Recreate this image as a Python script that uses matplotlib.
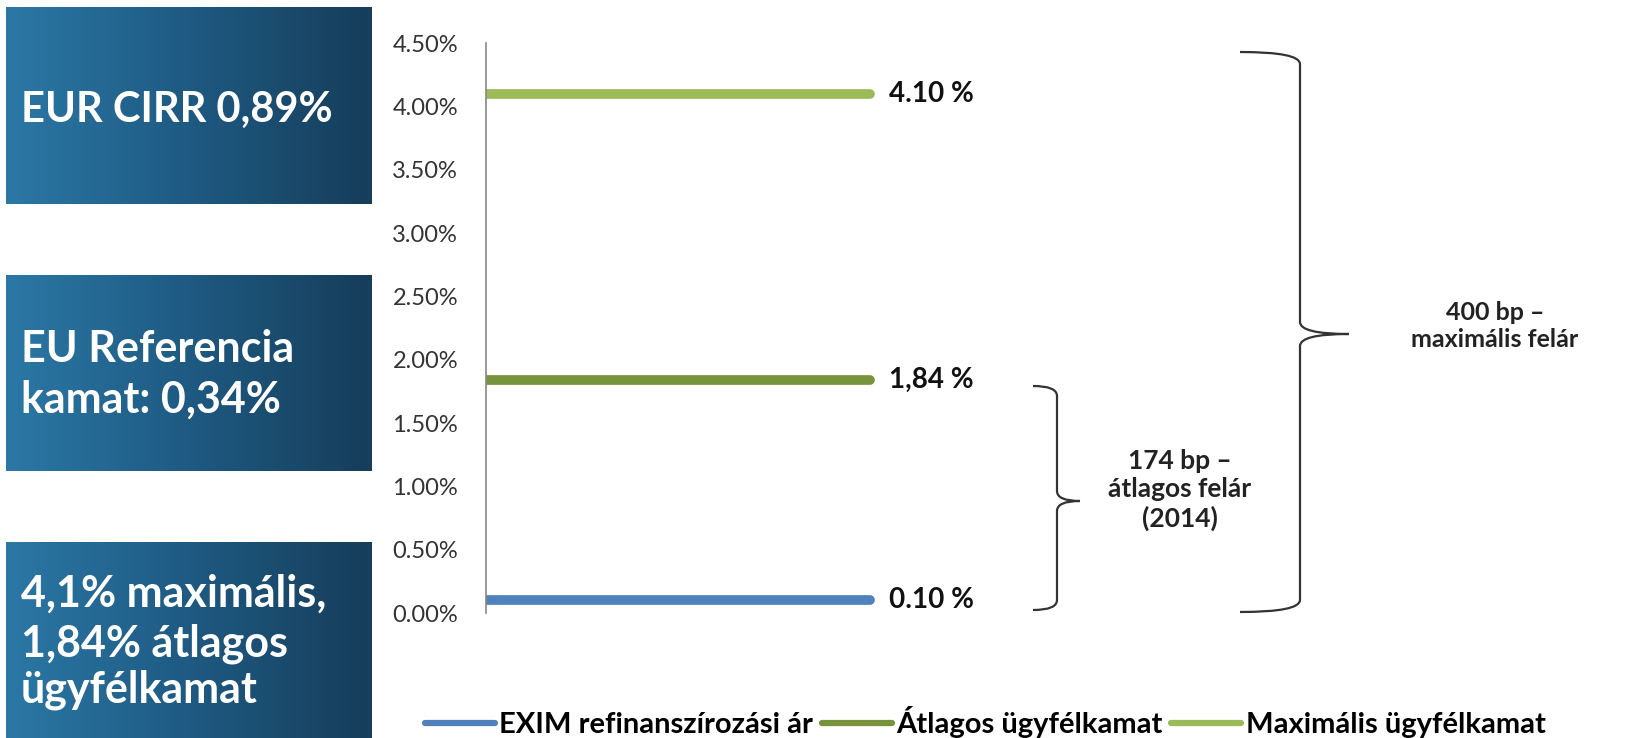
import numpy as np
import matplotlib.pyplot as plt
from matplotlib.path import Path
from matplotlib.patches import PathPatch
from matplotlib.colors import LinearSegmentedColormap

# data
series = ["EXIM refinanszírozási ár", "Átlagos ügyfélkamat", "Maximális ügyfélkamat"]
values = [0.10, 1.84, 4.10]
value_labels = ["0.10 %", "1,84 %", "4.10 %"]
colors = ["#4f81bd", "#77933c", "#9bbb59"]
yticks = [0.0, 0.5, 1.0, 1.5, 2.0, 2.5, 3.0, 3.5, 4.0, 4.5]

box_texts = [["EUR CIRR 0,89%"],
             ["EU Referencia", "kamat: 0,34%"],
             ["4,1% maximális,", "1,84% átlagos", "ügyfélkamat"]]
brace_small_text = "174 bp –\nátlagos felár\n(2014)"
brace_big_text = "400 bp –\nmaximális felár"

W, H = 1628, 738
fig = plt.figure(figsize=(W / 100, H / 100), dpi=100)
fig.patch.set_facecolor("white")


def fx(x):
    return x / W


def fy(y):
    return 1 - y / H


# gradient boxes on the left
cmap = LinearSegmentedColormap.from_list("box", ["#2b78a6", "#1e5a82", "#163d5a"])
grad = np.linspace(0, 1, 256).reshape(1, -1)
boxes = [(6, 7, 372, 204), (6, 275, 372, 471), (6, 542, 372, 745)]
box_sizes = [30, 31, 31]
box_baselines = [[122], [362, 413], [607, 656, 703]]
for (x0, y0, x1, y1), lines, fs, bases in zip(boxes, box_texts, box_sizes, box_baselines):
    bax = fig.add_axes([fx(x0), fy(y1), fx(x1 - x0), (y1 - y0) / H])
    bax.imshow(grad, aspect="auto", cmap=cmap, extent=[0, 1, 0, 1])
    bax.axis("off")
    for line, b in zip(lines, bases):
        fig.text(fx(21), fy(b), line, color="white", fontsize=fs,
                 fontweight="bold", family="Lato", va="baseline", ha="left")

# main chart
ax_left, ax_right, ax_top, ax_bot = 486, 880, 43, 613
ax = fig.add_axes([fx(ax_left), fy(ax_bot), fx(ax_right - ax_left), (ax_bot - ax_top) / H])
x = [0, 1]
lines = []
for name, v, c, lab in zip(series, values, colors, value_labels):
    ln, = ax.plot(x, [v, v], color=c, lw=7, solid_capstyle="round", label=name)
    lines.append(ln)
    ax.annotate(lab, (1, v), xytext=(14, 0), textcoords="offset points",
                va="center", ha="left", fontsize=20, fontweight="bold",
                family="Lato", color="#111111")

ax.set_xlim(-0.003, 1.026)
ax.set_ylim(0, 4.5)
ax.set_yticks(yticks)
ax.set_yticklabels(["{:.2f}%".format(t) for t in yticks], family="Lato",
                   fontsize=17, color="#333333")
ax.tick_params(axis="y", length=0, pad=20)
ax.set_xticks([])
for s in ["top", "right", "bottom"]:
    ax.spines[s].set_visible(False)
ax.spines["left"].set_color("#888888")
ax.spines["left"].set_linewidth(1.2)
ax.patch.set_alpha(0)


# braces
def brace(x_end, x_spine, x_tip, y_top, y_mid, y_bot, r):
    pts = [(x_end, y_top), (x_spine, y_top), (x_spine, y_top + r),
           (x_spine, y_mid - r), (x_spine, y_mid), (x_tip, y_mid),
           (x_spine, y_mid), (x_spine, y_mid + r),
           (x_spine, y_bot - r), (x_spine, y_bot), (x_end, y_bot)]
    codes = [Path.MOVETO, Path.CURVE3, Path.CURVE3,
             Path.LINETO, Path.CURVE3, Path.CURVE3,
             Path.CURVE3, Path.CURVE3,
             Path.LINETO, Path.CURVE3, Path.CURVE3]
    verts = [(fx(a), fy(b)) for a, b in pts]
    fig.add_artist(PathPatch(Path(verts, codes), transform=fig.transFigure,
                             fill=False, edgecolor="#333333", lw=1.6))


brace(1033, 1057, 1080, 386, 501, 610, 10)
brace(1240, 1300, 1349, 52, 334, 612, 12)

fig.text(fx(1180), fy(490), brace_small_text, ha="center", va="center",
         fontsize=19, fontweight="bold", family="Lato", color="#222222",
         linespacing=1.2)
fig.text(fx(1495), fy(326), brace_big_text, ha="center", va="center",
         fontsize=18, fontweight="bold", family="Lato", color="#222222",
         linespacing=1.2)

# legend
leg = fig.legend(handles=lines, loc="center", bbox_to_anchor=(fx(985), fy(722)),
                 ncol=3, frameon=False, handlelength=2.4, handletextpad=0.15,
                 columnspacing=0.3, prop={"family": "Lato", "weight": "bold", "size": 21})
for h in leg.get_lines():
    h.set_linewidth(4.5)
    h.set_solid_capstyle("round")

fig.savefig("out.png", dpi=100, facecolor="white")
